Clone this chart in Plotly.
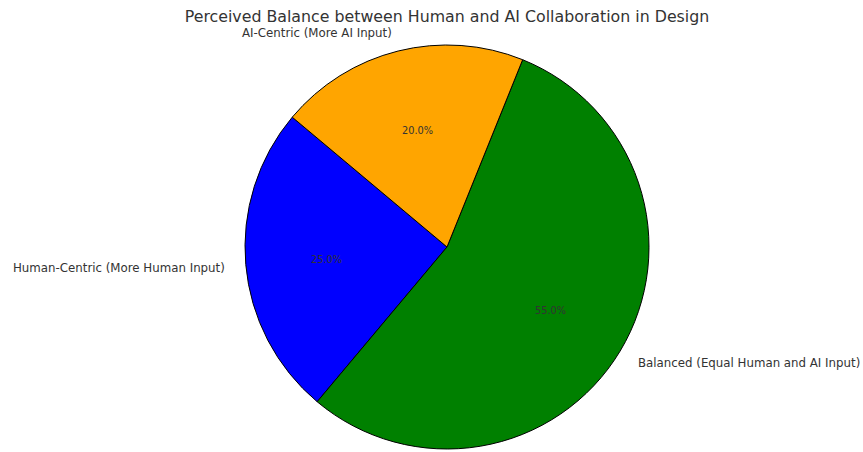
import math
import plotly.graph_objects as go

categories = ["Human-Centric (More Human Input)", "Balanced (Equal Human and AI Input)", "AI-Centric (More AI Input)"]
values = [25, 55, 20]
colors = ["blue", "green", "orange"]
start_angle = 140  # degrees, counterclockwise from 3 o'clock

W, H = 863, 452
cx, cy, r = 447, 247, 202
dom_x = [(cx - r) / W, (cx + r) / W]
dom_y = [(H - cy - r) / H, (H - cy + r) / H]
ROT = -(start_angle)  # plotly rotation giving the same start

fig = go.Figure()
fig.add_trace(go.Pie(
    labels=categories, values=values, sort=False,
    direction="counterclockwise", rotation=ROT,
    marker=dict(colors=colors, line=dict(color="black", width=1)),
    textinfo="none",
    domain=dict(x=dom_x, y=dom_y), showlegend=False, hoverinfo="skip",
))

total = sum(values)
annotations = []
acc = 0.0
for lab, v in zip(categories, values):
    mid = math.radians(start_angle + 360 * (acc + v / 2) / total)
    acc += v
    c, s = math.cos(mid), math.sin(mid)
    lx = cx + 1.1 * r * c
    ly = cy - 1.1 * r * s
    annotations.append(dict(
        x=lx / W, y=(H - ly) / H, xref="paper", yref="paper",
        text=lab, showarrow=False,
        xanchor="left" if c > 0 else "right", yanchor="middle",
        yshift=-1.5, borderpad=0,
        font=dict(family="DejaVu Sans", size=11.8, color="#333333"),
    ))
    px = cx + 0.6 * r * c
    py = cy - 0.6 * r * s
    annotations.append(dict(
        x=px / W, y=(H - py) / H, xref="paper", yref="paper",
        text=f"{100 * v / total:.1f}%", showarrow=False,
        xanchor="center", yanchor="middle", yshift=-1.5,
        font=dict(family="DejaVu Sans", size=9.8, color="#333333"),
    ))

fig.update_layout(
    width=W, height=H,
    margin=dict(l=0, r=0, t=0, b=0),
    paper_bgcolor="white",
    annotations=annotations,
    title=dict(text="Perceived Balance between Human and AI Collaboration in Design",
               x=cx / W, xanchor="center", y=1 - 16.5 / H, yanchor="middle",
               font=dict(family="DejaVu Sans", size=15.8, color="#333333")),
)
fig.write_html("out.html")
